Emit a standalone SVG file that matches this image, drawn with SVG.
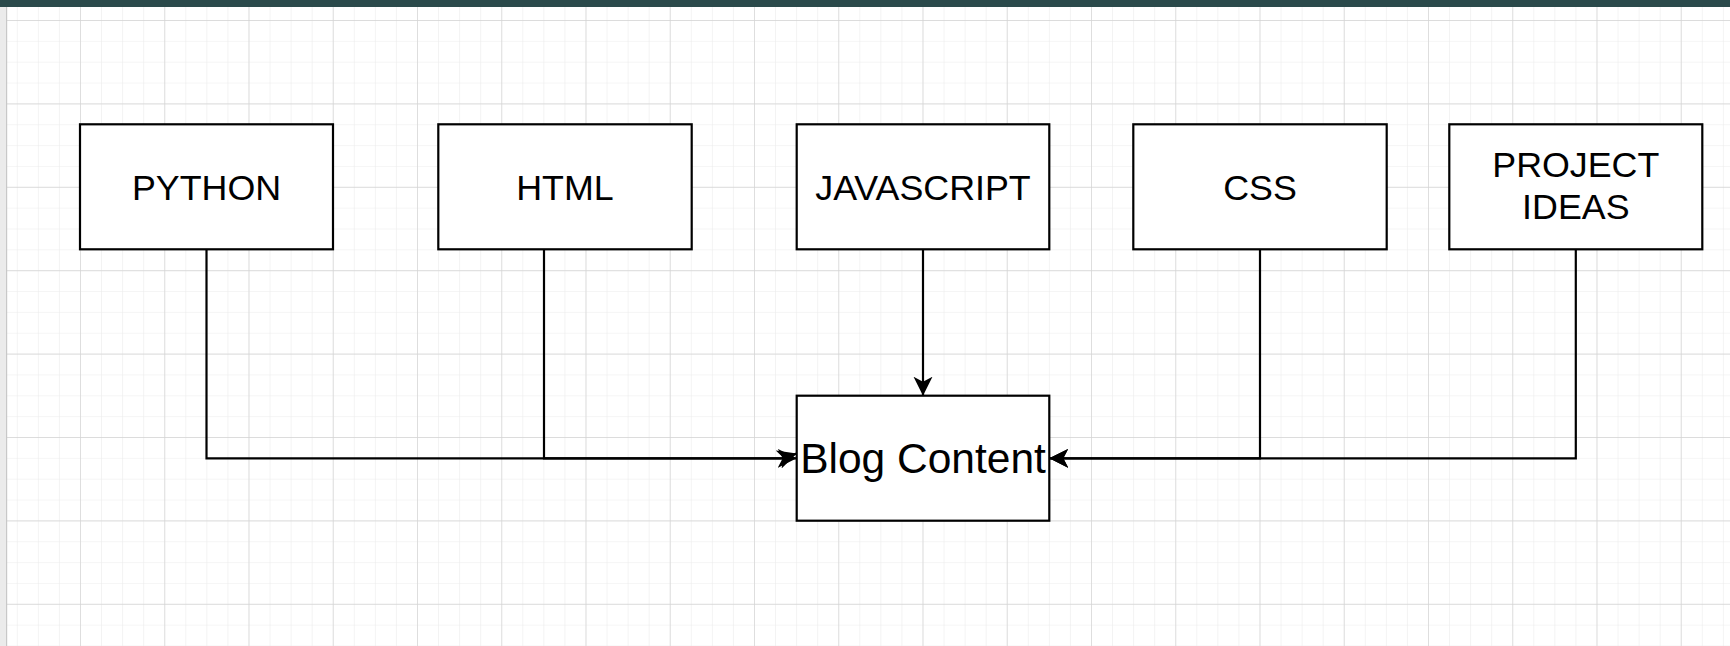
<svg xmlns="http://www.w3.org/2000/svg" width="1730" height="646" viewBox="0 0 1730 646">
  <defs>
    <pattern id="minor" patternUnits="userSpaceOnUse" x="16.81" y="20" width="21.0625" height="20.85">
      <path d="M0 0 V20.85 M0 0 H21.0625" fill="none" stroke="#ececec" stroke-width="1.2"/>
    </pattern>
    <pattern id="major" patternUnits="userSpaceOnUse" x="80" y="20" width="84.25" height="83.4">
      <path d="M0 0 V83.4 M0 0 H84.25" fill="none" stroke="#d3d3d3" stroke-width="1.3"/>
    </pattern>
    <marker id="arrow" markerUnits="userSpaceOnUse" viewBox="0 0 20 20" refX="19" refY="10" markerWidth="20" markerHeight="20" orient="auto">
      <path d="M19 10 L0 0.5 L5 10 L0 19.5 Z" fill="#000"/>
    </marker>
    <style>
      .box { fill: #ffffff; stroke: #000000; stroke-width: 2.2; }
      .label { font-family: "Liberation Sans", Arial, Helvetica, sans-serif; font-size: 35.8px; fill: #000000; text-anchor: middle; }
      .big { font-size: 42.5px; }
      .edge { fill: none; stroke: #000000; stroke-width: 2.2; marker-end: url(#arrow); }
    </style>
  </defs>

  <rect x="0" y="0" width="1730" height="646" fill="#ffffff"/>
  <rect x="0" y="0" width="1730" height="646" fill="url(#minor)"/>
  <rect x="0" y="0" width="1730" height="646" fill="url(#major)"/>
  <rect x="0" y="0" width="6.5" height="646" fill="#ebebeb"/>
  <rect x="6" y="0" width="1.2" height="646" fill="#c8c8c8"/>
  <rect x="0" y="0" width="1730" height="7" fill="#2b4a4b"/>

  <g id="connectors">
    <path class="edge" d="M206.5 249.3 V458.3 H796.7"/>
    <path class="edge" d="M544 249.3 V458.3 H782 L796.7 453.5"/>
    <path class="edge" d="M923 249.3 V395.7"/>
    <path class="edge" d="M1260 249.3 V458.3 H1049.3"/>
    <path class="edge" d="M1575.8 249.3 V458.3 H1049.3"/>
  </g>

  <g id="python">
    <rect class="box" x="80" y="124.3" width="253" height="125"/>
    <text class="label" x="206.5" y="199.5">PYTHON</text>
  </g>
  <g id="html">
    <rect class="box" x="438.3" y="124.3" width="253.4" height="125"/>
    <text class="label" x="565" y="199.5">HTML</text>
  </g>
  <g id="javascript">
    <rect class="box" x="796.7" y="124.3" width="252.6" height="125"/>
    <text class="label" x="923" y="199.5">JAVASCRIPT</text>
  </g>
  <g id="css">
    <rect class="box" x="1133.3" y="124.3" width="253.4" height="125"/>
    <text class="label" x="1260" y="199.5">CSS</text>
  </g>
  <g id="project-ideas">
    <rect class="box" x="1449.3" y="124.3" width="253" height="125"/>
    <text class="label" x="1575.8" y="176.7">PROJECT</text>
    <text class="label" x="1575.8" y="219">IDEAS</text>
  </g>
  <g id="blog-content">
    <rect class="box" x="796.7" y="395.7" width="252.6" height="125"/>
    <text class="label big" x="923" y="473">Blog Content</text>
  </g>
</svg>
